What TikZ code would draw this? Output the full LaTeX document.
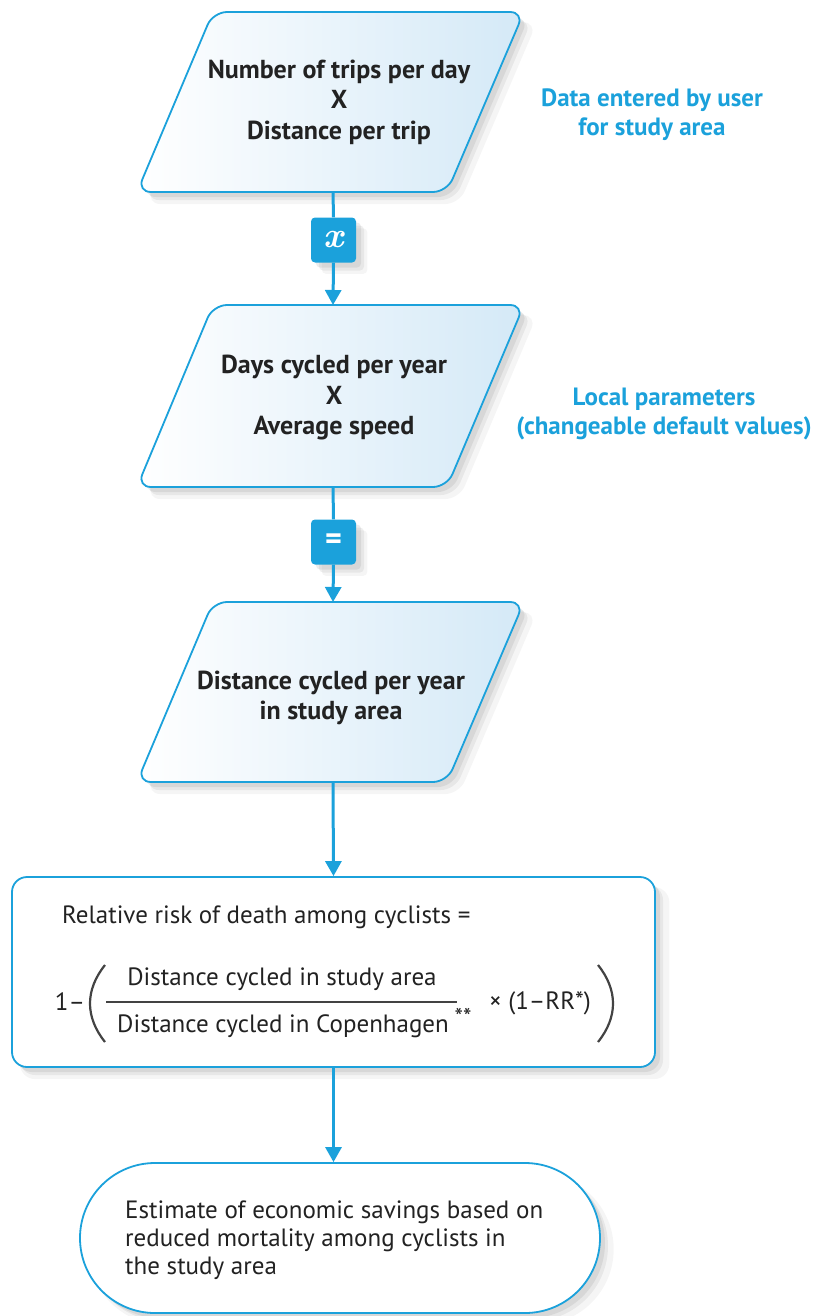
\documentclass[tikz,border=0pt]{standalone}
\usepackage{fontspec}
\setmainfont{PT Sans}
\newfontfamily\lmrfont{Latin Modern Roman}
\usetikzlibrary{arrows.meta,shadows}
\definecolor{cblue}{HTML}{1BA1DB}
\definecolor{cfill}{HTML}{D4E9F7}
\definecolor{ctext}{HTML}{222222}
\tikzset{
  softshadow/.style={
    drop shadow={opacity=0.08,shadow xshift=11pt,shadow yshift=-11pt,shadow scale=1.01},
    drop shadow={opacity=0.12,shadow xshift=8pt,shadow yshift=-8pt},
    drop shadow={opacity=0.15,shadow xshift=5pt,shadow yshift=-5pt}},
  parashape/.style={draw=cblue,line width=1.8pt,rounded corners=14pt,
    left color=white,right color=cfill,softshadow},
  paratext/.style={align=center,text=ctext,font=\bfseries\fontsize{26pt}{30.5pt}\selectfont},
  opbox/.style={rectangle,fill=cblue,rounded corners=4pt,minimum width=45pt,minimum height=45pt,
    text=white,inner sep=0pt,softshadow},
  formbox/.style={rectangle,draw=cblue,line width=1.8pt,fill=white,rounded corners=15pt,
    minimum width=643pt,minimum height=190pt,softshadow},
  stadium/.style={rectangle,draw=cblue,line width=1.8pt,fill=white,rounded corners=75pt,
    minimum width=520pt,minimum height=150pt,softshadow},
  note/.style={text=cblue,align=center,font=\bfseries\fontsize{25pt}{29pt}\selectfont},
  ftext/.style={text=ctext,font=\fontsize{25pt}{28pt}\selectfont,inner sep=0pt},
  conn/.style={draw=cblue,line width=3pt},
  arr/.style={conn,-{Triangle[width=16pt,length=15pt]}},
  paren/.style={draw=ctext!85,line width=2.2pt}
}
\begin{document}
\begin{tikzpicture}[x=1pt,y=-1pt]
\useasboundingbox (0,0) rectangle (812,1316);
% parallelograms
\draw[parashape] (213,12) -- (524,12) -- (447,192) -- (137,192) -- cycle;
\draw[parashape] (213,305) -- (524,305) -- (447,487) -- (137,487) -- cycle;
\draw[parashape] (213,602) -- (524,602) -- (447,782) -- (137,782) -- cycle;
\coordinate (p1s) at (333,192);
\coordinate (p2n) at (333,305);
\coordinate (p2s) at (333,487);
\coordinate (p3n) at (333,602);
\coordinate (p3s) at (333,782);
\node[paratext] (p1) at (339,102) {Number of trips per day\\X\\Distance per trip};
\node[paratext] (p2) at (334,398) {Days cycled per year\\X\\Average speed};
\node[paratext] (p3) at (331,698) {Distance cycled per year\\in study area};
% operators
\node[opbox,font=\lmrfont\bfseries\itshape\fontsize{36pt}{36pt}\selectfont] (ox) at (333.5,240) {x};
\node[opbox,font=\bfseries\fontsize{32pt}{32pt}\selectfont] (oeq) at (333.5,542) {=};
% boxes
\node[formbox] (form) at (333.5,972) {};
\node[stadium] (est) at (340,1238) {};
% notes
\node[note] (n1) at (652,115) {Data entered by user\\for study area};
\node[note] (n2) at (664,414) {Local parameters\\(changeable default values)};
% formula
\node[ftext,anchor=west] (rel) at (62,917) {Relative risk of death among cyclists =};
\node[ftext] (one) at (70,1002) {1–};
\node[ftext] (num) at (282,979) {Distance cycled in study area};
\node[ftext] (den) at (283,1026) {Distance cycled in Copenhagen};
\node[ftext,font=\fontsize{24pt}{24pt}\selectfont] (stars) at (463,1017) {**};
\node[ftext] (times) at (540,1003) {× (1–RR*)};
\draw[draw=ctext!85,line width=2pt] (106,1002) -- (457,1002);
\draw[paren] (105,965) .. controls (85,990) and (85,1017) .. (105,1042);
\draw[paren] (598,965) .. controls (618,990) and (618,1017) .. (598,1042);
\node[ftext,anchor=west,align=left] (esttext) at (125,1240)
  {Estimate of economic savings based on\\reduced mortality among cyclists in\\the study area};
% connectors
\draw[conn] (p1s) -- (ox.north);
\draw[arr] (ox.south) -- (p2n);
\draw[conn] (p2s) -- (oeq.north);
\draw[arr] (oeq.south) -- (p3n);
\draw[arr] (p3s) -- (form.north);
\draw[arr] (form.south) -- (form.south |- est.north);
\end{tikzpicture}
\end{document}
